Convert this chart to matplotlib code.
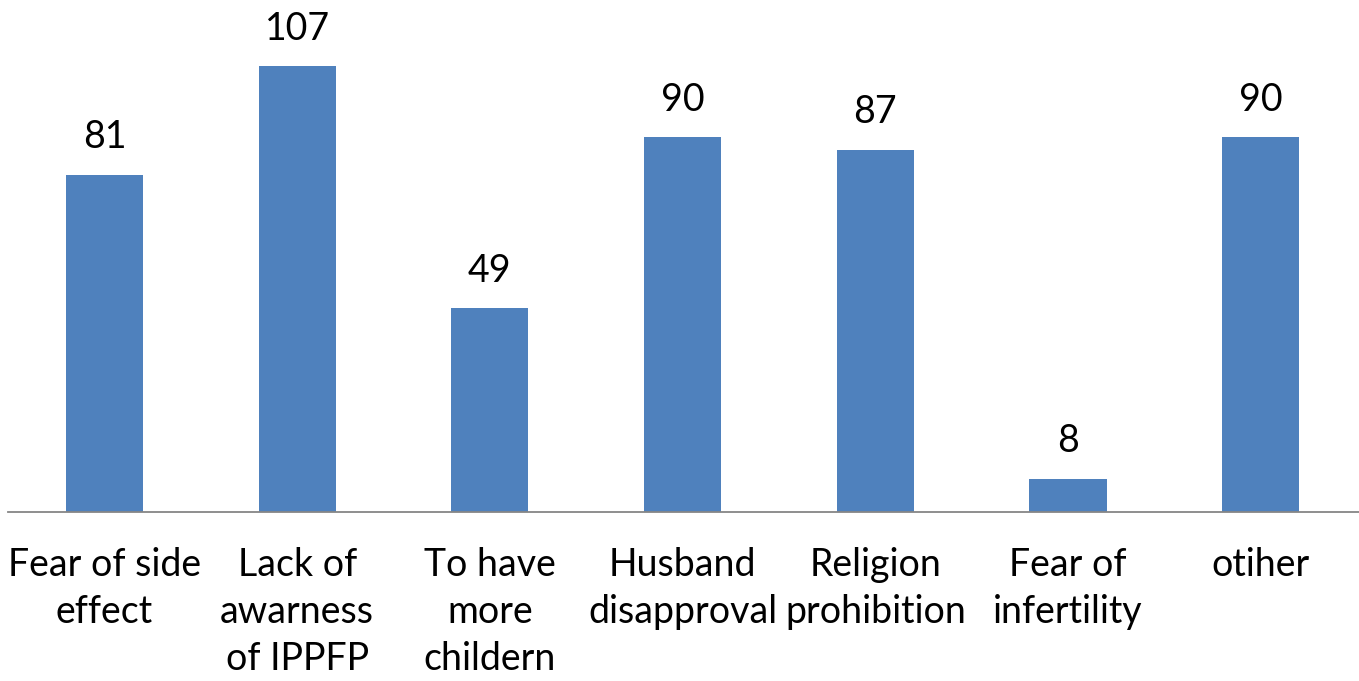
import matplotlib
matplotlib.use('Agg')
import matplotlib.pyplot as plt

# data
categories = ['Fear of side\neffect', 'Lack of\nawarness\nof IPPFP', 'To have\nmore\nchildern',
              'Husband\ndisapproval', 'Religion\nprohibition', 'Fear of\ninfertility', 'otiher']
values = [81, 107, 49, 90, 87, 8, 90]

bar_color = '#4F81BD'

plt.rcParams['font.family'] = ['Lato', 'DejaVu Sans']

fig = plt.figure(figsize=(13.59, 6.81), dpi=100)
ax = fig.add_axes([0.006, 0.248, 0.994, 0.734])

x = range(len(categories))
bars = ax.bar(x, values, width=0.4, color=bar_color, zorder=2)

for xi, v in zip(x, values):
    ax.annotate(str(v), (xi, v), xytext=(0, 14), textcoords='offset points',
                ha='center', va='bottom', fontsize=27, color='#000000')

ax.set_xlim(-0.5, len(categories) - 0.5 + 0.01)
ax.set_ylim(0, 120)
ax.set_xticks(list(x))
ax.set_xticklabels(categories, fontsize=27, linespacing=1.38)
ax.tick_params(axis='x', length=0, pad=25)
ax.set_yticks([])

for side in ['top', 'right', 'left']:
    ax.spines[side].set_visible(False)
ax.spines['bottom'].set_color('#868686')
ax.spines['bottom'].set_linewidth(1.3)

fig.savefig('out.png', dpi=100)
